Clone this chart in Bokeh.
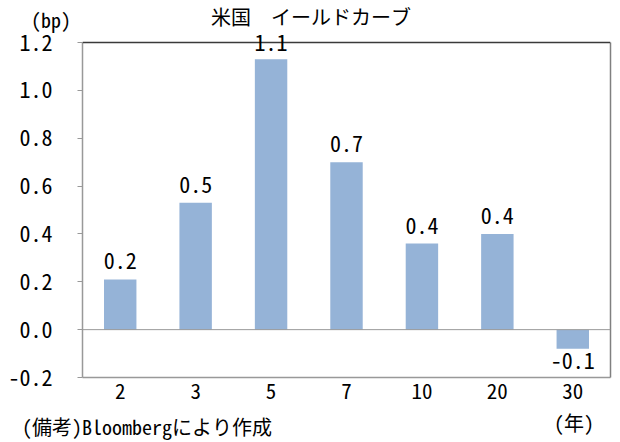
from bokeh.plotting import figure
from bokeh.layouts import column
from bokeh.models import (FactorRange, Range1d, FixedTicker, ColumnDataSource,
                          LabelSet, Span, PrintfTickFormatter, LinearAxis, Div)
from bokeh.core.properties import value
from bokeh.embed import file_html
from bokeh.resources import INLINE

# ---- data ----
maturities = ["2", "3", "5", "7", "10", "20", "30"]
changes = [0.21, 0.53, 1.13, 0.70, 0.36, 0.40, -0.08]
y_ticks = [-0.2, 0.0, 0.2, 0.4, 0.6, 0.8, 1.0, 1.2]
title_text = "米国　イールドカーブ"
unit_text = "(bp)"
x_unit_text = "(年)"
source_text = "(備考)Bloombergにより作成"

# ---- style ----
FONT = "'Noto Sans Mono CJK JP', 'Noto Sans CJK JP', monospace"
BAR = "#95B3D7"
AX = "#999999"
TOP_LINE = "#3a3a3a"
RIGHT_LINE = "#808080"
Y0, Y1 = -0.2, 1.2
W = 620
TOP_H = 32          # title strip box
TOP_OVERLAP = 8     # main chart starts this much above the strip's end
PLOT_PX = 335       # height of the plot area (-0.2 .. 1.2)
HEAD_PX = 42 - (TOP_H - TOP_OVERLAP)   # room above 1.2 inside the frame
MAIN_BOTTOM = 37
MAIN_H = HEAD_PX + PLOT_PX + MAIN_BOTTOM
BOT_H = 442 - (TOP_H - TOP_OVERLAP) - MAIN_H

px_per_unit = PLOT_PX / (Y1 - Y0)


def span_html(text, x, y, anchor="center"):
    tx = "-50%" if anchor == "center" else "0"
    return (f'<span style="position:absolute;left:{x}px;top:{y}px;'
            f'transform:translate({tx},-50%);white-space:nowrap;'
            f'line-height:1;">{text}</span>')


def strip(height, parts, margin=0):
    html = (f'<div style="position:relative;width:{W}px;height:{height}px;'
            f'font-family:{FONT};font-size:20px;color:black;">'
            + "".join(parts) + '</div>')
    return Div(text=html, width=W, height=height, margin=margin)


# ---- top strip: title and unit ----
top = strip(TOP_H, [span_html(title_text, 311, 17),
                    span_html(unit_text, 51, 20)],
            margin=(0, 0, -TOP_OVERLAP, 0))

# ---- main chart ----
p = figure(width=W, height=MAIN_H,
           x_range=FactorRange(*maturities),
           y_range=Range1d(Y0, Y1 + HEAD_PX / px_per_unit),
           output_backend="svg", toolbar_location=None,
           min_border_left=82, min_border_right=10,
           min_border_top=0, min_border_bottom=MAIN_BOTTOM)
p.background_fill_alpha = 0
p.border_fill_alpha = 0
p.outline_line_color = None
p.xgrid.visible = False
p.ygrid.visible = False

src = ColumnDataSource(dict(x=maturities, top=changes))
p.vbar(x="x", top="top", bottom=0, width=0.43, source=src,
       fill_color=BAR, line_color=None)

p.add_layout(Span(location=0, dimension="width", line_color=AX, line_width=1))
p.add_layout(Span(location=Y1, dimension="width", line_color=TOP_LINE, line_width=1.5))

# data labels (Excel style: above positive bars, below negative, kept inside)
lab_y = [min(v + 18 / px_per_unit, Y1) if v >= 0 else v - 12 / px_per_unit
         for v in changes]
lab_t = [f"{v:.1f}" for v in changes]
lsrc = ColumnDataSource(dict(x=maturities, y=lab_y, t=lab_t))
p.add_layout(LabelSet(x="x", y="y", text="t", source=lsrc,
                      text_align="center", text_baseline="middle",
                      text_font=value(FONT), text_font_size="22px",
                      text_color="black"))

# axes
p.yaxis.bounds = (Y0, Y1)
p.yaxis.ticker = FixedTicker(ticks=y_ticks)
p.yaxis.formatter = PrintfTickFormatter(format="%.1f")
p.yaxis.major_label_text_font = FONT
p.yaxis.major_label_text_font_size = "22px"
p.yaxis.major_label_text_color = "black"
p.yaxis.major_tick_out = 5
p.yaxis.major_tick_in = 0
p.yaxis.minor_tick_line_color = None
p.yaxis.major_tick_line_color = AX
p.yaxis.axis_line_color = AX
p.yaxis.axis_line_width = 1.5
p.yaxis.major_label_standoff = 25

right = LinearAxis(bounds=(Y0, Y1), ticker=FixedTicker(ticks=[]),
                   axis_line_color=RIGHT_LINE, axis_line_width=1.5,
                   major_tick_out=0, major_tick_in=0,
                   minor_tick_out=0, minor_tick_in=0, major_label_standoff=0)
p.add_layout(right, "right")

p.xaxis.major_label_text_font = FONT
p.xaxis.major_label_text_font_size = "21px"
p.xaxis.major_label_text_color = "black"
p.xaxis.major_tick_out = 0
p.xaxis.major_tick_in = 0
p.xaxis.major_tick_line_color = None
p.xaxis.minor_tick_line_color = None
p.xaxis.axis_line_color = AX
p.xaxis.axis_line_width = 1.5
p.xaxis.major_label_standoff = 5

# ---- bottom strip: x unit and source ----
bot = strip(BOT_H, [span_html(x_unit_text, 574, 9),
                    span_html(source_text, 22, 13, anchor="left")])

layout = column(top, p, bot, spacing=0)
open("out.html", "w").write(file_html(layout, INLINE))
